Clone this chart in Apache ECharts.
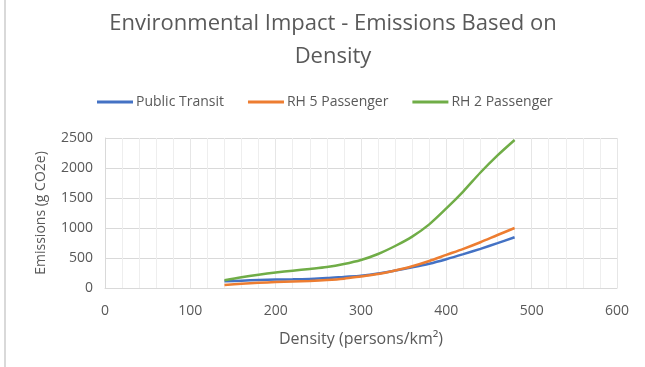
<!DOCTYPE html>
<html>
<head>
<meta charset="utf-8">
<script src="https://cdn.jsdelivr.net/npm/echarts@6/dist/echarts.min.js"></script>
<style>html,body{margin:0;padding:0;background:#fff;}#c{width:645px;height:367px;}</style>
</head>
<body>
<div id="c"></div>
<script>
const density = [140,160,180,200,220,240,260,280,300,320,340,360,380,400,420,440,460,480];
const publicTransit = [112,122,132,140,146,152,165,185,205,240,292,345,405,480,564,653,747,846];
const rh5Passenger = [50,70,86,100,110,118,132,155,193,232,292,362,450,552,653,763,883,1000];
const rh2Passenger = [130,180,222,258,288,318,350,400,467,567,700,857,1061,1326,1612,1925,2210,2467];
const seriesNames = ['Public Transit','RH 5 Passenger','RH 2 Passenger'];
const colors = ['#4472C4','#ED7D31','#70AD47'];
const font = 'Open Sans';
const txt = '#595959';
function pairs(v){ return density.map((x,i)=>[x,v[i]]); }
const chart = echarts.init(document.getElementById('c'));
chart.setOption({
  animation:false,
  backgroundColor:'#fff',
  title:{
    text:'Environmental Impact - Emissions Based on\nDensity',
    left:328, textAlign:'center', top:2,
    textStyle:{fontFamily:font,fontSize:22,fontWeight:'normal',color:txt,lineHeight:33}
  },
  legend:{
    top:90, left:92, itemGap:24, itemWidth:36, itemHeight:3,
    icon:'rect',
    textStyle:{fontFamily:font,fontSize:14,color:txt,padding:[0,0,0,-2]},
    data:seriesNames
  },
  graphic:[{type:'rect',shape:{x:4,y:0,width:2,height:367},style:{fill:'#d9d9d9'},silent:true}],
  grid:{left:105,right:28,top:138,bottom:79},
  xAxis:{
    type:'value',min:0,max:600,interval:100,
    name:'Density (persons/km²)',nameLocation:'middle',nameGap:43,
    nameTextStyle:{fontFamily:font,fontSize:16,color:txt},
    axisLabel:{fontFamily:font,fontSize:14,color:txt,margin:16},
    axisLine:{show:true,lineStyle:{color:'#d9d9d9',width:1}},
    axisTick:{show:false},
    splitLine:{show:true,lineStyle:{color:'#e6e6e6'}},
    minorTick:{show:false,splitNumber:5},
    minorSplitLine:{show:true,lineStyle:{color:'#eeeeee'}}
  },
  yAxis:{
    type:'value',min:0,max:2500,interval:500,
    name:'Emissions (g CO2e)',nameLocation:'middle',nameGap:57,
    nameTextStyle:{fontFamily:font,fontSize:14,color:txt},
    axisLabel:{fontFamily:font,fontSize:14,color:txt,margin:12,formatter:v=>String(v)},
    axisLine:{show:true,lineStyle:{color:'#d9d9d9'}},
    axisTick:{show:false},
    splitLine:{show:true,lineStyle:{color:'#d9d9d9'}}
  },
  series:[publicTransit,rh5Passenger,rh2Passenger].map((v,i)=>({
    name:seriesNames[i],type:'line',smooth:0.3,showSymbol:false,
    data:pairs(v),
    lineStyle:{width:2.5,color:colors[i]},itemStyle:{color:colors[i]}
  }))
});
</script>
</body>
</html>
